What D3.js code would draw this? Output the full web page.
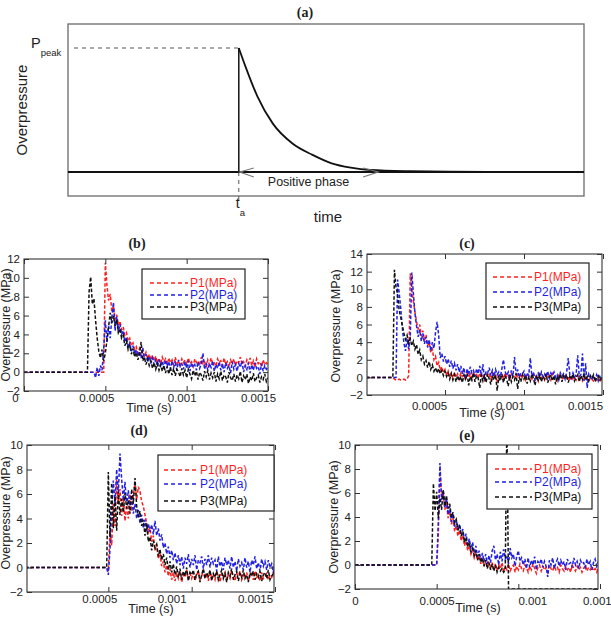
<!DOCTYPE html>
<html>
<head>
<meta charset="utf-8">
<script src="https://cdn.jsdelivr.net/npm/d3@7"></script>
<style>
  body { margin: 0; background: #fff; }
  svg { display: block; }
</style>
</head>
<body>
<svg id="chart" width="611" height="617"></svg>
<script>
'use strict';

// ---------- panel (a): idealised blast wave ----------
var aTime  = [0, 33.1, 33.1, 34.4, 36.7, 39.7, 43.5, 47.3, 51.1, 54.8, 58.6, 66.2, 81.3, 100];
var aPress = [0, 0, 1.0, 0.85, 0.61, 0.39, 0.23, 0.14, 0.07, 0.035, 0.016, 0.006, 0, 0];
var aPhase = [33.1, 60.1];

// ---------- panels (b)-(e): measured pressures, 10 us sampling ----------
var DT = 0.00001;
var seriesNames = ['P1(MPa)', 'P2(MPa)', 'P3(MPa)'];
var seriesColors = ['#ff1f1f', '#1f1fe6', '#111111'];

// arrival time of each gauge (s)
var bArrival = [0.00049, 0.00043, 0.00039];
var cArrival = [0.00017, 0.00019, 0.00017];
var dArrival = [0.00049, 0.00049, 0.00049];
var eArrival = [0.0005, 0.0005, 0.00047];

var bP1 = [0, 11.6, 9.2, 7.6, 8.3, 6.4, 7.0, 5.6, 6.1, 5.0,
  5.4, 4.5, 4.8, 3.9, 4.2, 3.3, 3.6, 2.8, 3.1, 2.4,
  2.7, 2.0, 2.5, 1.8, 2.3, 1.6, 2.1, 1.4, 1.9, 1.3,
  1.8, 1.2, 1.7, 1.0, 1.5, 0.9, 1.6, 1.1, 1.4, 0.8,
  1.5, 1.0, 1.3, 0.7, 1.6, 0.9, 1.2, 0.6, 1.4, 1.0,
  1.3, 0.8, 1.5, 0.9, 1.1, 0.6, 1.4, 1.0, 1.2, 0.7,
  1.6, 0.9, 1.1, 0.5, 1.3, 0.8, 1.5, 0.9, 1.0, 0.6,
  1.4, 1.0, 1.2, 0.7, 1.5, 0.8, 1.1, 0.5, 1.3, 0.9,
  1.4, 0.7, 1.2, 1.0, 1.6, 0.8, 1.1, 0.6, 1.3, 0.9,
  1.5, 0.7, 1.2, 0.5, 1.4, 0.9, 1.1, 0.6, 1.3, 0.8,
  1.0, 0.7];
var bP2 = [0, -0.6, 0.5, -0.4, 0.7, 0.2, 2.5, 5.5, 3.2, 4.9,
  3.6, 5.8, 7.4, 4.4, 5.9, 4.2, 5.1, 4.0, 4.4, 3.2,
  3.7, 2.6, 3.1, 2.2, 2.8, 1.9, 2.4, 1.7, 2.2, 1.5,
  2.6, 1.3, 1.9, 1.1, 1.7, 0.9, 1.5, 0.8, 1.4, 0.6,
  1.3, 0.5, 1.2, 0.4, 1.3, 0.6, 1.1, 0.3, 1.2, 0.5,
  1.0, 0.2, 1.3, 0.6, 0.9, 0.3, 1.1, 0.4, 1.2, 0.1,
  1.0, 0.5, 0.8, 0.2, 1.1, 0.4, 0.9, 2.0, 0.3, 1.0,
  0.2, 0.9, 0.5, 1.2, 0.1, 0.8, 0.4, 1.1, 0.2, 0.9,
  0.0, 1.0, 0.4, 0.7, -0.1, 1.1, 0.3, 0.8, 0.1, 0.9,
  0.5, 1.2, 0.0, 0.7, 0.3, 1.0, -0.1, 0.8, 0.2, 1.0,
  0.4, 0.6, -0.2, 0.9, 0.1, 0.7, 0.3, 0.5];
var bP3 = [0, 8.5, 10.1, 7.2, 7.8, 5.5, 3.6, 2.2, 1.5, 2.4,
  1.2, 2.0, 3.4, 4.8, 6.3, 5.2, 6.0, 4.9, 5.6, 4.2,
  4.6, 3.6, 3.9, 2.8, 3.3, 2.4, 2.9, 1.9, 2.5, 1.6,
  2.1, 1.3, 1.9, 3.2, 1.2, 1.6, 0.8, 1.4, 0.7, 1.2,
  0.4, 1.0, 0.3, 0.9, 0.2, 0.8, 0.1, 0.7, -0.1, 0.6,
  -0.2, 0.5, -0.3, 0.4, -0.4, 0.3, 0.0, -0.5, 0.4, -0.3,
  0.2, -0.6, 0.3, -0.2, -0.7, 0.2, -0.4, 0.1, -0.8, 0.0,
  -0.3, -0.9, 0.1, -0.5, 0.2, -0.8, -0.1, -0.6, 0.0, -1.0,
  -0.2, -0.7, 0.1, -0.9, -0.3, -0.5, -1.1, 0.0, -0.6, -0.9,
  -0.2, -1.0, -0.3, -0.7, 0.1, -1.1, -0.4, -0.8, -0.2, -1.2,
  -0.5, -0.9, -0.1, -1.0, -0.6, -0.3, -1.1, -0.5, -0.8, -0.2,
  -1.0, -0.6];

var cP1 = [0, -0.2, -0.3, -0.3, -0.2, -0.3, -0.3, -0.2, -0.3, -0.2,
  0.2, 11.8, 10.0, 8.6, 7.4, 6.3, 5.5, 6.0, 4.7, 5.3,
  4.2, 4.8, 3.6, 4.0, 2.8, 3.2, 2.0, 2.4, 1.3, 1.7,
  0.8, 1.2, 0.5, 0.9, 0.2, 0.7, 0.0, 0.5, -0.1, 0.6,
  0.0, 0.4, -0.2, 0.5, 0.1, 0.3, -0.3, 0.5, 0.0, 0.4,
  -0.2, 0.6, 0.1, 0.3, -0.1, 0.5, 0.0, 0.2, -0.3, 0.4,
  0.1, 0.3, -0.2, 0.5, 0.0, 0.2, -0.4, 0.4, 0.1, 0.3,
  -0.2, 0.5, 0.0, 0.2, -0.3, 0.4, 0.1, 0.2, -0.2, 0.3,
  0.0, 0.4, -0.1, 0.2, -0.3, 0.3, 0.1, 0.0, -0.2, 0.4,
  0.0, 0.2, -0.4, 0.3, 0.0, 0.1, -0.3, 0.3, -0.1, 0.2,
  -0.3, 0.4, 0.0, 0.1, -0.4, 0.2, -0.1, 0.0, -0.3, 0.3,
  -0.1, 0.1, -0.4, 0.2, -0.2, 0.0, -0.3, 0.2, -0.2, 0.0,
  -0.4, 0.1, -0.3, -0.1, -0.5, 0.0, -0.2, -0.4, -0.1, -0.3,
  0.0, -0.5, -0.2, -0.3];
var cP2 = [0, 11.1, 9.6, 7.8, 5.6, 3.9, 3.0, 4.4, 3.2, 4.5,
  11.9, 9.5, 7.2, 5.8, 4.6, 5.4, 4.1, 5.0, 3.8, 4.6,
  3.4, 4.3, 3.0, 4.0, 3.3, 5.1, 6.3, 4.8, 2.2, 2.7,
  1.8, 2.4, 1.5, 2.1, 1.2, 1.9, 1.0, 1.6, 0.8, 1.5,
  0.6, 1.3, 0.4, 1.1, -0.2, 1.0, 0.3, 1.2, 0.5, 0.8,
  0.1, 1.0, 0.4, 1.3, 0.2, 1.5, -0.3, 0.7, 0.5, 1.1,
  0.2, 0.8, 0.1, 0.9, 0.3, 0.6, 0.0, 1.0, 2.0, 0.7,
  0.2, 0.6, -0.2, 0.8, 0.1, 2.3, 0.3, 0.9, 0.0, 0.5,
  0.4, 0.7, -0.1, 0.5, 0.2, 2.2, 0.1, 0.6, -0.4, 0.3,
  0.5, -0.2, 0.6, 0.1, 0.4, 0.0, 0.7, -0.1, 0.5, 0.2,
  0.6, 0.0, 0.3, -0.3, 0.5, 0.1, 0.4, -0.2, 0.6, 2.2,
  0.3, -0.1, 0.5, 0.0, 0.4, 2.5, 0.1, 0.3, 2.7, -0.4,
  1.6, -1.2, 0.4, 0.1, -0.3, 0.2, -0.2, 0.3, -0.4, 0.1,
  -0.3, -0.2];
var cP3 = [0, 12.2, 10.2, 9.5, 7.6, 6.8, 5.9, 5.0, 4.3, 4.8,
  3.9, 4.4, 3.6, 4.1, 3.2, 3.7, 2.6, 3.1, 2.0, 2.4,
  1.5, 1.9, 1.1, 1.8, 0.9, 1.4, 0.7, 1.1, 0.5, 1.0,
  0.4, 0.8, 0.2, 0.7, 0.1, 0.5, -0.2, 0.4, -0.3, 0.3,
  -0.5, 0.2, -0.4, 0.1, -0.6, 0.3, -0.2, 0.4, -0.9, 0.1,
  -0.3, 0.5, -0.5, 0.2, -0.1, -1.2, 0.3, -0.4, 0.2, -0.6,
  0.4, -0.2, -0.8, 0.1, -0.3, 0.3, -1.5, 0.0, -0.4, 0.4,
  -0.6, 0.2, -0.2, -1.0, 0.3, -0.5, 0.1, -0.3, 0.4, -1.3,
  0.0, -0.5, 0.3, -0.2, 0.2, -0.7, 0.1, -0.4, 0.4, -0.1,
  -0.9, 0.2, -0.3, 0.3, -0.5, 0.1, -0.2, 0.4, -0.6, 0.0,
  0.3, -0.4, 0.2, -0.8, 0.1, -0.3, 0.4, -0.5, 0.2, -0.1,
  0.3, -0.6, 0.1, -0.2, 0.4, -0.4, 0.0, 0.3, -0.5, 0.2,
  -0.2, 0.4, -0.3, 0.1, -0.4, 0.2, -0.1, 0.3, -0.5, 0.0,
  0.2, -0.3, -0.1, -0.4];

var dP1 = [0, -0.3, 3.0, 1.8, 5.2, 3.4, 7.2, 5.3, 6.4, 4.2,
  5.7, 3.8, 5.1, 4.0, 6.0, 4.6, 5.8, 7.0, 5.5, 6.6,
  6.2, 5.4, 5.0, 4.3, 3.6, 2.9, 3.3, 2.1, 2.6, 1.4,
  1.9, 0.7, 1.2, 0.1, 0.5, -0.4, 0.2, -0.7, -0.1, -1.0,
  -0.4, -1.1, -0.5, -0.9, -0.3, -1.2, -0.6, -0.8, -0.2, -1.0,
  -0.5, -0.9, -0.4, -1.1, -0.6, -0.3, -1.0, -0.7, -0.2, -0.9,
  -0.5, -1.1, -0.4, -0.8, -0.6, -1.0, -0.3, -0.7, -1.2, -0.5,
  -0.8, -0.4, -1.0, -0.6, -0.9, -0.2, -0.8, -1.1, -0.5, -0.7,
  -0.3, -1.0, -0.6, -0.9, -0.4, -1.1, -0.7, -0.5, -1.0, -0.3,
  -0.8, -0.6, -1.1, -0.4, -0.9, -0.7, -0.5, -1.0, -0.6, -0.8,
  -0.4, -0.9];
var dP2 = [0, -0.6, 1.5, 4.8, 7.1, 5.2, 8.0, 6.1, 9.3, 7.2,
  5.5, 7.0, 5.1, 6.3, 4.8, 5.9, 4.4, 5.2, 4.0, 4.7,
  3.6, 4.3, 3.2, 3.9, 3.0, 3.6, 2.9, 3.5, 2.7, 3.8,
  2.6, 3.2, 2.2, 2.7, 1.6, 2.0, 1.1, 1.7, 0.8, 1.4,
  0.6, 1.2, 0.3, 1.0, 0.2, 0.9, -0.1, 0.8, 0.3, 1.1,
  0.0, 0.7, 0.2, 1.0, -0.2, 0.6, 0.4, 0.9, -0.1, 0.7,
  0.2, 1.0, 0.0, 0.8, 0.3, 0.6, -0.3, 0.9, 0.1, 0.5,
  -0.2, 0.8, 0.2, 0.6, -0.1, 0.9, 0.0, 0.5, -0.3, 0.7,
  0.1, 0.4, -0.2, 0.8, 0.0, 0.5, -0.4, 0.6, 0.2, 0.9,
  -0.1, 0.4, -0.3, 0.7, 0.1, 0.5, -0.2, 0.6, 0.0, 0.3,
  -0.4, 0.5];
var dP3 = [0, 7.8, 2.5, 6.9, 3.2, 5.8, 3.0, 6.2, 4.3, 5.6,
  4.5, 6.1, 4.8, 5.5, 4.4, 6.4, 5.2, 7.3, 5.0, 4.1,
  4.6, 3.4, 3.9, 2.6, 3.6, 2.1, 2.5, 1.4, 2.2, 1.6,
  1.9, 0.9, 1.5, 0.6, 1.1, 0.2, 0.8, -0.2, 0.5, -0.4,
  0.3, -0.6, 0.1, -0.8, -0.1, -1.0, -0.3, -0.7, 0.0, -1.1,
  -0.4, -0.6, -0.2, -1.0, -0.5, -0.3, -1.2, -0.6, -0.1, -0.9,
  -0.4, -0.7, -0.2, -1.1, -0.5, -0.8, -0.3, -1.0, -0.6, -0.2,
  -0.9, -0.5, -1.2, -0.4, -0.7, -0.1, -1.0, -0.6, -0.3, -1.1,
  -0.5, -0.8, -0.2, -0.9, -0.6, -1.2, -0.4, -0.7, -0.3, -1.0,
  -0.5, -0.8, -0.3, -1.1, -0.6, -0.4, -0.9, -0.2, -1.0, -0.7,
  -0.5, -0.8];

var eP1 = [0, 2.5, 8.0, 5.8, 6.1, 4.6, 5.2, 3.9, 4.5, 3.4,
  3.9, 2.8, 3.3, 2.4, 2.9, 2.0, 2.5, 1.6, 2.0, 1.2,
  1.6, 0.9, 1.3, 0.6, 1.0, 0.4, 0.8, 0.1, 0.6, -0.1,
  0.4, -0.2, 0.3, -0.3, 0.2, -0.4, 0.1, -0.5, 0.0, -0.3,
  0.2, -0.6, -0.1, -0.4, 0.1, -0.5, -0.2, 0.0, -0.6, -0.1,
  -0.4, 0.1, -0.3, -0.5, 0.0, -0.2, -0.6, -0.1, -0.4, 0.1,
  -0.3, -0.7, -0.2, 0.0, -0.5, -0.1, -0.4, -0.2, -0.6, 0.0,
  -0.3, -0.5, -0.1, -0.4, -0.2, -0.6, 0.0, -0.3, -0.5, -0.1,
  -0.4, -0.2, -0.6, 0.0, -0.3, -0.5, -0.1, -0.4, -0.2, -0.6,
  -0.3, 0.0, -0.5, -0.2, -0.4, -0.1, -0.5, -0.3, -0.6, -0.2,
  -0.4];
var eP2 = [0, 3.5, 8.5, 5.4, 6.2, 4.8, 5.6, 4.2, 4.9, 3.6,
  4.3, 3.2, 3.8, 2.9, 3.4, 2.6, 3.0, 2.1, 2.6, 1.7,
  2.2, 1.3, 1.9, 1.0, 1.6, 0.7, 1.2, 0.4, 1.0, 0.3,
  0.9, 0.1, 0.8, 0.2, 1.2, 1.6, 0.4, 0.9, 0.0, 1.1,
  0.3, 1.3, 0.5, 0.8, 0.1, 1.4, 0.6, 0.9, -0.1, 0.7,
  1.2, 0.3, 0.6, 0.0, 0.5, -0.3, 0.6, -0.2, 0.4, 0.0,
  0.7, -0.4, 0.3, 0.1, 0.5, -0.2, 0.3, -0.1, -1.0, 0.4,
  0.0, 0.6, -0.3, 0.2, 0.5, -0.1, 0.4, 0.0, 0.3, -0.4,
  0.5, 0.1, 0.2, -0.2, 0.6, 0.0, 0.3, -0.3, 0.4, 0.1,
  0.2, -0.2, 0.5, 0.0, 0.3, -0.4, 0.2, 0.5, -0.1, 0.3,
  0.0];
// P3 in (e): gauge failed at ~0.93 ms, record stays at the -2 floor afterwards
var eP3 = [0, 6.8, 4.5, 6.1, 3.9, 5.6, 4.6, 6.3, 4.9, 5.8,
  4.7, 5.1, 4.0, 4.4, 3.5, 3.8, 2.9, 3.3, 2.4, 2.8,
  1.9, 2.3, 1.5, 1.9, 1.1, 1.4, 0.8, 1.2, 0.4, 0.9,
  0.2, 0.6, -0.1, 0.4, -0.3, 0.2, -0.4, 0.1, -0.5, 0.0,
  -0.6, -0.2, -0.5, -0.3, -0.6, -0.4, 12, -2];
var eP3HoldUntil = 0.0015;

var yTicksB = [-2, 0, 2, 4, 6, 8, 10, 12];
var yTicksC = [-2, 0, 2, 4, 6, 8, 10, 12, 14];
var yTicksDE = [-2, 0, 2, 4, 6, 8, 10];
var xTicksB = [0, 0.0005, 0.001, 0.0015];
var xTicksC = [0.0005, 0.001, 0.0015];
var xLabels = {0: '0', 0.0005: '0.0005', 0.001: '0.001', 0.0015: '0.0015'};

var FONT = '"Liberation Sans", Arial, Helvetica, sans-serif';
var SERIF = '"Liberation Serif", "DejaVu Serif", serif';

var svg = d3.select('#chart');

function toPoints(t0, vals, holdUntil) {
  var pts = [[0, 0]];
  vals.forEach((v, i) => pts.push([t0 + i * DT, v]));
  if (holdUntil != null) pts.push([holdUntil, vals[vals.length - 1]]);
  return pts;
}

// ---------------- panel (a) ----------------
function drawSketch() {
  var box = {x0: 68, x1: 584, y0: 24, y1: 196};
  var x = d3.scaleLinear().domain([0, 100]).range([box.x0, box.x1]);
  var y = d3.scaleLinear().domain([0, 1]).range([172, 48]);
  var g = svg.append('g').attr('class', 'panel-a');
  var pts = aTime.map((t, i) => [t, aPress[i]]);

  g.append('rect')
    .attr('x', box.x0).attr('y', box.y0)
    .attr('width', box.x1 - box.x0).attr('height', box.y1 - box.y0)
    .attr('fill', 'none').attr('stroke', '#6a6a6a').attr('stroke-width', 1.3);

  // peak level and arrival time guides
  g.append('line')
    .attr('x1', 74).attr('x2', x(aTime[2]))
    .attr('y1', y(aPress[2])).attr('y2', y(aPress[2]))
    .attr('stroke', '#555').attr('stroke-dasharray', '4,4');
  g.append('line')
    .attr('x1', x(aTime[1])).attr('x2', x(aTime[1]))
    .attr('y1', y(0)).attr('y2', 203)
    .attr('stroke', '#555').attr('stroke-dasharray', '4,4');

  var lin = d3.line().x(d => x(d[0])).y(d => y(d[1]));
  var smooth = d3.line().x(d => x(d[0])).y(d => y(d[1])).curve(d3.curveMonotoneX);
  g.append('path').attr('d', lin([pts[0], pts[pts.length - 1]]))
    .attr('fill', 'none').attr('stroke', '#111').attr('stroke-width', 1.8);
  g.append('path').attr('d', lin(pts.slice(1, 3)))
    .attr('fill', 'none').attr('stroke', '#111').attr('stroke-width', 1.5);
  g.append('path').attr('d', smooth(pts.slice(2)))
    .attr('fill', 'none').attr('stroke', '#111').attr('stroke-width', 1.8);

  // positive phase double arrow
  var ax0 = x(aPhase[0]), ax1 = x(aPhase[1]), ay = y(0);
  var arrow = g.append('g').attr('stroke', '#7a7a7a').attr('stroke-width', 1.2).attr('fill', 'none');
  arrow.append('path').attr('d', `M${ax0 + 15},${ay - 4}L${ax0 + 1},${ay}L${ax0 + 15},${ay + 5}`);
  arrow.append('path').attr('d', `M${ax1 - 15},${ay - 4}L${ax1},${ay}L${ax1 - 15},${ay + 5}`);
  g.append('text').attr('x', (ax0 + ax1) / 2).attr('y', 186)
    .attr('text-anchor', 'middle').attr('font-family', FONT).attr('font-size', 12.5)
    .attr('fill', '#222').text('Positive phase');

  var peak = g.append('text').attr('x', 31).attr('y', 48)
    .attr('font-family', FONT).attr('font-size', 14.5).attr('fill', '#222');
  peak.append('tspan').text('P');
  peak.append('tspan').attr('dy', 8).attr('font-size', 9.5).text('peak');

  g.append('text').attr('x', x(aTime[1]) - 3).attr('y', 208)
    .attr('font-family', FONT).attr('font-size', 14).attr('fill', '#222').text('t');
  g.append('text').attr('x', x(aTime[1]) + 1).attr('y', 216)
    .attr('font-family', FONT).attr('font-size', 9.5).attr('fill', '#222').text('a');

  g.append('text').attr('x', 328).attr('y', 222).attr('text-anchor', 'middle')
    .attr('font-family', FONT).attr('font-size', 15).attr('fill', '#222').text('time');
  g.append('text').attr('transform', 'translate(27,110)rotate(-90)').attr('text-anchor', 'middle')
    .attr('font-family', FONT).attr('font-size', 15).attr('fill', '#222').text('Overpressure');

  g.append('text').attr('x', 305).attr('y', 17).attr('text-anchor', 'middle')
    .attr('font-family', SERIF).attr('font-weight', 'bold').attr('font-size', 14)
    .attr('fill', '#222').text('(a)');
}

// ---------------- panels (b)-(e) ----------------
function drawPanel(p) {
  var x = d3.scaleLinear().domain([0, 0.0015]).range(p.xRange);
  var y = d3.scaleLinear().domain([p.yTicks[0], p.yTicks[p.yTicks.length - 1]]).range([p.y1, p.y0]);
  var g = svg.append('g').attr('class', 'panel-' + p.id);
  var fx0 = p.frame[0], fx1 = p.frame[1];

  g.append('clipPath').attr('id', 'clip-' + p.id)
    .append('rect').attr('x', fx0).attr('y', p.y0).attr('width', fx1 - fx0).attr('height', p.y1 - p.y0);

  var line = d3.line().x(d => x(d[0])).y(d => y(d[1]));
  var plot = g.append('g').attr('clip-path', 'url(#clip-' + p.id + ')');
  plot.selectAll('path.series')
    .data(p.series)
    .enter().append('path')
    .attr('class', 'series')
    .attr('d', d => line(d))
    .attr('fill', 'none')
    .attr('stroke', (d, i) => seriesColors[i])
    .attr('stroke-width', 1.5)
    .attr('stroke-dasharray', '3.5,2');

  g.append('rect')
    .attr('x', fx0).attr('y', p.y0).attr('width', fx1 - fx0).attr('height', p.y1 - p.y0)
    .attr('fill', 'none').attr('stroke', '#333').attr('stroke-width', 1.1);

  var styleAxis = sel => {
    sel.select('.domain').remove();
    sel.selectAll('line').attr('stroke', '#333');
    sel.selectAll('text').attr('font-family', FONT).attr('font-size', 11.5).attr('fill', '#222');
  };
  g.append('g').attr('transform', `translate(${fx0},0)`)
    .call(d3.axisLeft(y).tickValues(p.yTicks).tickSize(-5).tickPadding(4).tickFormat(d3.format('d')))
    .call(styleAxis);
  g.append('g').attr('transform', `translate(${fx1},0)`)
    .call(d3.axisRight(y).tickValues(p.yTicks).tickSize(-5).tickFormat(''))
    .call(styleAxis);
  g.append('g').attr('transform', `translate(0,${p.y0})`)
    .call(d3.axisTop(x).tickValues(p.xTicks).tickSize(-5).tickFormat(''))
    .call(styleAxis);
  var bottom = g.append('g').attr('transform', `translate(0,${p.y1})`)
    .call(d3.axisBottom(x).tickValues(p.xTicks).tickSize(-5).tickPadding(p.xPad).tickFormat(d => xLabels[d]))
    .call(styleAxis);
  // the exported figure places the tick labels slightly off their ticks
  bottom.selectAll('text').attr('dx', (d, i) => p.xDx[i]);

  g.append('text').attr('x', p.xTitle[0]).attr('y', p.xTitle[1]).attr('text-anchor', 'middle')
    .attr('font-family', FONT).attr('font-size', 12.5).attr('fill', '#222').text('Time (s)');
  g.append('text').attr('transform', `translate(${p.yTitle[0]},${p.yTitle[1]})rotate(-90)`)
    .attr('text-anchor', 'middle').attr('font-family', FONT).attr('font-size', 12.5)
    .attr('fill', '#222').text('Overpressure (MPa)');
  g.append('text').attr('x', p.title[0]).attr('y', p.title[1]).attr('text-anchor', 'middle')
    .attr('font-family', SERIF).attr('font-weight', 'bold').attr('font-size', 14)
    .attr('fill', '#222').text('(' + p.id + ')');

  // legend
  var L = p.legend;
  var lg = g.append('g').attr('transform', `translate(${L.x},${L.y})`);
  lg.append('rect').attr('width', L.w).attr('height', L.h)
    .attr('fill', '#fff').attr('stroke', '#222').attr('stroke-width', 1.2);
  var rows = lg.selectAll('g.row').data(seriesNames).enter().append('g')
    .attr('class', 'row')
    .attr('transform', (d, i) => `translate(0,${L.rowY[i]})`);
  rows.append('line').attr('x1', L.dash[0]).attr('x2', L.dash[1])
    .attr('stroke', (d, i) => seriesColors[i]).attr('stroke-width', 1.3).attr('stroke-dasharray', '4,3');
  rows.append('text').attr('x', L.dash[1] + 2).attr('dy', '0.35em')
    .attr('font-family', FONT).attr('font-size', 12)
    .attr('fill', (d, i) => seriesColors[i]).text(d => d);
}

drawSketch();

drawPanel({
  id: 'b', xRange: [24, 268], frame: [24, 268], y0: 259, y1: 391,
  yTicks: yTicksB, xTicks: xTicksB, xPad: 3, xDx: [-9, -9, -5, -10],
  xTitle: [149, 412], yTitle: [10, 325], title: [137, 248],
  legend: {x: 142, y: 269, w: 103, h: 50, rowY: [14, 26, 38], dash: [8, 46]},
  series: [toPoints(bArrival[0], bP1), toPoints(bArrival[1], bP2), toPoints(bArrival[2], bP3)]
});
drawPanel({
  id: 'c', xRange: [366, 603], frame: [367, 602], y0: 254, y1: 395,
  yTicks: yTicksC, xTicks: xTicksC, xPad: 7, xDx: [-16, -14, -18],
  xTitle: [482, 417], yTitle: [340, 326], title: [467, 248],
  legend: {x: 486, y: 263, w: 103, h: 56, rowY: [14, 29, 44], dash: [7, 46]},
  series: [toPoints(cArrival[0], cP1), toPoints(cArrival[1], cP2), toPoints(cArrival[2], cP3)]
});
drawPanel({
  id: 'd', xRange: [25, 275], frame: [27, 274], y0: 445, y1: 592,
  yTicks: yTicksDE, xTicks: xTicksC, xPad: 3, xDx: [-9, -20, -20],
  xTitle: [151, 613], yTitle: [10, 513], title: [139, 435],
  legend: {x: 158, y: 455, w: 116, h: 56, rowY: [15, 29, 46], dash: [6, 40]},
  series: [toPoints(dArrival[0], dP1), toPoints(dArrival[1], dP2), toPoints(dArrival[2], dP3)]
});
drawPanel({
  id: 'e', xRange: [355, 600], frame: [355, 598], y0: 445, y1: 589,
  yTicks: yTicksDE, xTicks: xTicksB, xPad: 8, xDx: [0, 0, 14, 0],
  xTitle: [478, 612], yTitle: [338, 517], title: [467, 440],
  legend: {x: 487, y: 454, w: 105, h: 55, rowY: [15, 28, 43], dash: [8, 45]},
  series: [toPoints(eArrival[0], eP1), toPoints(eArrival[1], eP2), toPoints(eArrival[2], eP3, eP3HoldUntil)]
});
</script>
</body>
</html>
